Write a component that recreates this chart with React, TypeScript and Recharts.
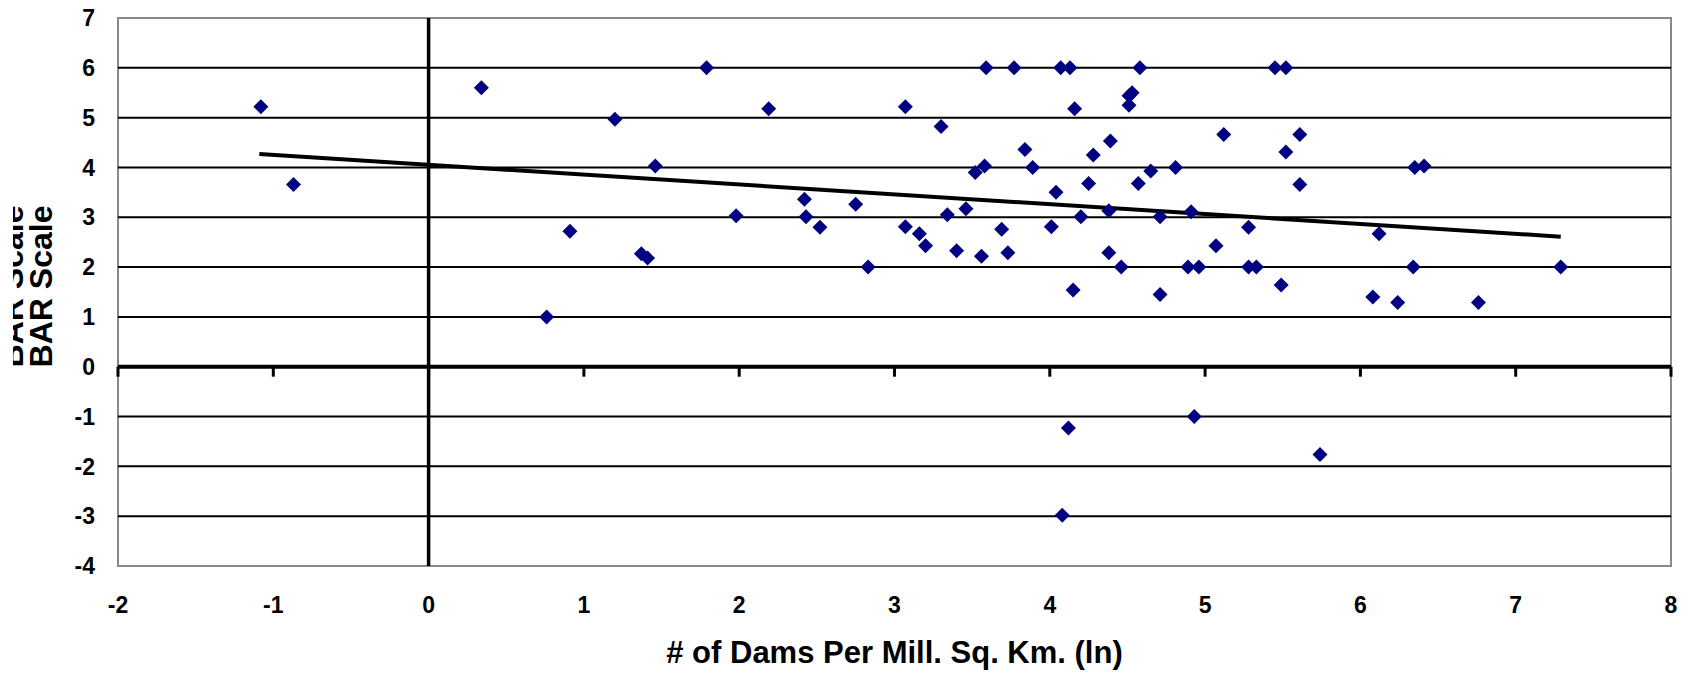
import React from "react";
import { ScatterChart, Scatter, XAxis, YAxis, ReferenceLine, ReferenceArea } from "recharts";

const FONT = "'Liberation Sans', Arial, sans-serif";

const X_TICKS = [-2, -1, 0, 1, 2, 3, 4, 5, 6, 7, 8];
const Y_TICKS = [-4, -3, -2, -1, 0, 1, 2, 3, 4, 5, 6, 7];
const GRID_Y = [-3, -2, -1, 1, 2, 3, 4, 5, 6];

// ln(dams per mill. sq. km) and BAR scale
const DAMS = [
  -1.08, -0.87, 0.34, 0.76, 0.91, 1.2, 1.37, 1.41, 1.46, 1.79, 1.98, 2.19, 2.42, 2.43, 2.52,
  2.75, 2.83, 3.07, 3.07, 3.16, 3.2, 3.3, 3.34, 3.4, 3.46, 3.52, 3.58, 3.56, 3.59, 3.69, 3.73,
  3.77, 3.84, 3.89, 4.01, 4.04, 4.07, 4.13, 4.15, 4.16, 4.2, 4.25, 4.28, 4.38, 4.38, 4.39,
  4.46, 4.51, 4.51, 4.53, 4.57, 4.58, 4.65, 4.71, 4.71, 4.81, 4.89, 4.91, 4.96, 5.07, 5.12,
  5.28, 5.28, 5.33, 5.45, 5.49, 5.52, 5.52, 5.61, 5.61, 6.08, 6.12, 6.24, 6.34, 6.35, 6.41,
  6.76, 7.29, 4.12, 4.93, 5.74, 4.08,
];
const BAR = [
  5.22, 3.66, 5.6, 1.0, 2.72, 4.97, 2.27, 2.18, 4.03, 6, 3.03, 5.18, 3.36, 3.01, 2.8,
  3.26, 2.0, 5.22, 2.81, 2.67, 2.43, 4.82, 3.05, 2.33, 3.17, 3.9, 4.03, 2.22, 6, 2.76, 2.29,
  6, 4.36, 4.0, 2.81, 3.5, 6, 6, 1.54, 5.18, 3.01, 3.68, 4.25, 3.13, 2.29, 4.53,
  2.0, 5.25, 5.44, 5.5, 3.68, 6, 3.93, 3.01, 1.45, 4.0, 2.0, 3.11, 2.0, 2.43, 4.66,
  2.8, 2.0, 2.0, 6, 1.64, 6, 4.31, 4.66, 3.66, 1.4, 2.67, 1.29, 2.0, 4.0, 4.03,
  1.29, 2.0, -1.23, -1.0, -1.76, -2.98,
];

// linear trend line end points
const TREND_X = [-1.09, 7.29];
const TREND_Y = [4.27, 2.61];

const points = DAMS.map((x, i) => ({ x, y: BAR[i] }));
const trend = TREND_X.map((x, i) => ({ x, y: TREND_Y[i] }));

const Diamond = (p: any) => {
  const { cx, cy } = p;
  const r = 7.5;
  return <polygon points={`${cx},${cy - r} ${cx + r},${cy} ${cx},${cy + r} ${cx - r},${cy}`} fill="#000080" />;
};

// the original has a second, half-hidden copy of the axis title behind the real one
const YTitle = () => (
  <g>
    <defs>
      <clipPath id="ytitle-clip">
        <rect x={13} y={0} width={14} height={674} />
      </clipPath>
    </defs>
    <g clipPath="url(#ytitle-clip)">
      <text x={23.3} y={286.5} transform="rotate(-90, 23.3, 286.5)" textAnchor="middle"
        fontSize={32} fontWeight={700} fontFamily={FONT} fill="#000">BAR Scale</text>
    </g>
    <text x={51.7} y={286.5} transform="rotate(-90, 51.7, 286.5)" textAnchor="middle"
      fontSize={32} fontWeight={700} fontFamily={FONT} fill="#000">BAR Scale</text>
  </g>
);

export default function App() {
  const tick = { fontSize: 23, fontWeight: 700, fill: "#000", fontFamily: FONT };
  return (
    <div style={{ position: "absolute", left: 0, top: 0, background: "#fff" }}>
      <ScatterChart width={1693} height={674} margin={{ top: 18, right: 22, bottom: 0, left: 0 }}>
        <XAxis type="number" dataKey="x" domain={[-2, 8]} ticks={X_TICKS} interval={0} height={108}
          axisLine={false} tickLine={false} tickSize={0} tickMargin={31} tick={tick}
          label={{ value: "# of Dams Per Mill. Sq. Km. (ln)", position: "insideBottom", offset: 11,
            fontSize: 31, fontWeight: 700, fill: "#000", fontFamily: FONT }} />
        <YAxis type="number" dataKey="y" domain={[-4, 7]} ticks={Y_TICKS} interval={0} width={118}
          axisLine={false} tickLine={false} tickSize={0} tickMargin={23} tick={tick}
          label={{ content: () => <YTitle /> }} />
        {GRID_Y.map((v) => (
          <ReferenceLine key={"g" + v} y={v} stroke="#000" strokeWidth={2} />
        ))}
        <ReferenceArea x1={-2} x2={8} y1={-4} y2={7} fill="none" stroke="#888" strokeWidth={2} />
        <ReferenceLine x={0} stroke="#000" strokeWidth={3.5} />
        <ReferenceLine y={0} stroke="#000" strokeWidth={4} />
        {X_TICKS.map((v) => (
          <ReferenceLine key={"t" + v} segment={[{ x: v, y: 0 }, { x: v, y: -0.2 }]} stroke="#000" strokeWidth={3} />
        ))}
        <Scatter data={trend} line={{ stroke: "#000", strokeWidth: 4 }} shape={() => <g />} isAnimationActive={false} />
        <Scatter data={points} shape={Diamond} isAnimationActive={false} />
      </ScatterChart>
    </div>
  );
}
